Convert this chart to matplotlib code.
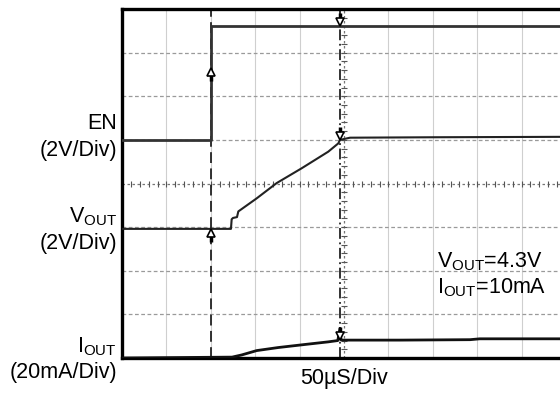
import matplotlib
matplotlib.use('Agg')
import matplotlib.pyplot as plt

plt.rcParams['font.family'] = ['Liberation Sans', 'DejaVu Sans']
plt.rcParams['mathtext.fontset'] = 'custom'
plt.rcParams['mathtext.rm'] = 'Liberation Sans'
plt.rcParams['mathtext.it'] = 'Liberation Sans:italic'

# scope screen: x in microseconds (50us/div), y in divisions
en_t = [0, 100, 100, 500]
en_div = [5.0, 5.0, 7.6, 7.6]

vout_t = [0, 122.7, 123.5, 125, 129.5, 131, 151.7, 174.2, 202.4, 232.3,
          243.6, 245.5, 256.8, 350, 500]
vout_div = [2.96, 2.96, 3.18, 3.21, 3.23, 3.36, 3.66, 4.01, 4.35, 4.73,
            4.92, 5.0, 5.05, 5.06, 5.07]

iout_t = [0, 123.9, 134.8, 151.7, 176, 206, 232.3, 243, 245.5, 246.5,
          248, 313, 392, 403, 500]
iout_div = [0.0, 0.02, 0.07, 0.17, 0.24, 0.31, 0.37, 0.4, 0.68, 0.42,
            0.41, 0.41, 0.42, 0.44, 0.44]

cursor_t = [100, 245]
# (time, tip level in div, pointing up?)
markers = [(100, 6.65, True), (100, 2.96, True),
           (245, 7.6, False), (245, 5.0, False), (245, 0.4, False)]

fig = plt.figure(figsize=(5.6, 3.93), dpi=100)
ax = fig.add_axes([122 / 560, 35 / 393, 444 / 560, 349 / 393])
ax.set_xlim(0, 500)
ax.set_ylim(0, 8)

# graticule
for i in range(1, 10):
    if i != 5:
        ax.axvline(i * 50, color='#cfcfcf', lw=0.8, zorder=1)
for j in range(1, 8):
    if j != 4:
        ax.axhline(j, color='#9a9a9a', lw=0.9, ls=(0, (3, 2)), zorder=1)
ax.axhline(4, color='#777777', lw=0.9, ls=(0, (2, 2)), zorder=1)
ax.axvline(250, color='#777777', lw=0.9, ls=(0, (2, 2)), zorder=1)
minor_x = [k * 10 for k in range(51)]
minor_y = [k * 0.2 for k in range(41)]
ax.plot(minor_x, [4] * len(minor_x), ls='', marker='|', ms=4, mew=0.8,
        color='#555555', zorder=1)
ax.plot([250] * len(minor_y), minor_y, ls='', marker='_', ms=4, mew=0.8,
        color='#555555', zorder=1)

# cursors
ax.axvline(cursor_t[0], color='#222222', lw=1.3, ls=(0, (6, 3)), zorder=2)
ax.axvline(cursor_t[1], color='#222222', lw=1.3, ls=(0, (6, 2, 1, 2)), zorder=2)

# traces
ax.plot(en_t, en_div, color='#333333', lw=2.0, zorder=3)
ax.plot(vout_t, vout_div, color='#222222', lw=1.5, zorder=3)
ax.plot(iout_t, iout_div, color='#111111', lw=2.0, zorder=3)

# trigger / cursor arrows
for t, lvl, up in markers:
    h = 0.16
    if up:
        ax.plot([t, t], [lvl - 0.3, lvl - 0.12], color='k', lw=2.5, zorder=4,
                solid_capstyle='butt')
        ax.plot(t, lvl - h / 2 - 0.02, marker='^', ms=6, mfc='white',
                mec='k', mew=1.2, zorder=5)
    else:
        ax.plot([t, t], [lvl + 0.3, lvl + 0.12], color='k', lw=2.5, zorder=4,
                solid_capstyle='butt')
        ax.plot(t, lvl + h / 2 + 0.02, marker='v', ms=6, mfc='white',
                mec='k', mew=1.2, zorder=5)

ax.set_xticks([])
ax.set_yticks([])
for side in ['left', 'top', 'bottom']:
    ax.spines[side].set_linewidth(2.4)
ax.spines['right'].set_visible(False)


def ftext(x, y, s, **kw):
    fig.text(x / 560, 1 - y / 393, s, fontsize=15.5, va='baseline', **kw)


ftext(117, 129, 'EN', ha='right')
ftext(117, 156, '(2V/Div)', ha='right')
ftext(117, 222, 'V$_{\\mathrm{OUT}}$', ha='right')
ftext(117, 249, '(2V/Div)', ha='right')
ftext(117, 352, 'I$_{\\mathrm{OUT}}$', ha='right')
ftext(117, 378, '(20mA/Div)', ha='right')
ftext(344, 384, '50\u00b5S/Div', ha='center')
ftext(437, 267, 'V$_{\\mathrm{OUT}}$=4.3V', ha='left')
ftext(437, 293, 'I$_{\\mathrm{OUT}}$=10mA', ha='left')

fig.savefig('out.png', dpi=100)
